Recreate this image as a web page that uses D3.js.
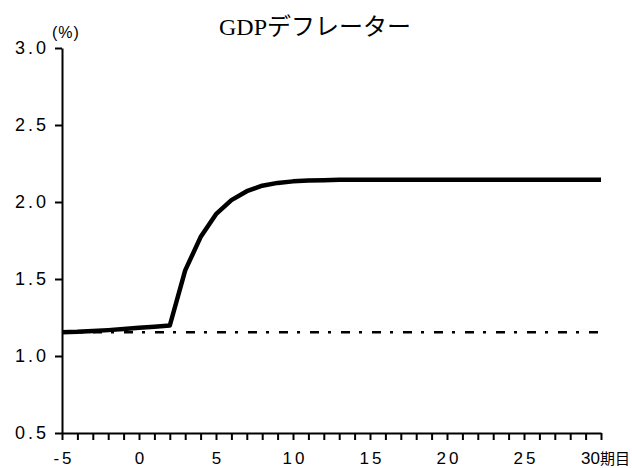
<!DOCTYPE html>
<html><head><meta charset="utf-8">
<script src="https://cdn.jsdelivr.net/npm/d3@7"></script>
<style>
body{margin:0;background:#fff;}
svg{display:block;}
</style>
</head><body>
<script>
const periods = [-5,-4,-3,-2,-1,0,1,2,3,4,5,6,7,8,9,10,11,12,13,14,15,16,17,18,19,20,21,22,23,24,25,26,27,28,29,30];
const deflator = [1.155,1.157,1.162,1.168,1.175,1.183,1.190,1.198,1.556,1.772,1.921,2.012,2.070,2.106,2.124,2.134,2.139,2.142,2.144,2.145,2.145,2.145,2.145,2.145,2.145,2.145,2.145,2.145,2.145,2.145,2.145,2.145,2.145,2.145,2.145,2.145];
const baselineValue = 1.155;
const yTicks = [0.5,1.0,1.5,2.0,2.5,3.0];
const xLabelTicks = [-5,0,5,10,15,20,25,30];
const title = "GDPデフレーター";
const unitLabel = "(%)";
const lastLabelSuffix = "期目";

const W = 632, H = 468;
const svg = d3.select("body").append("svg").attr("width", W).attr("height", H);

const x = d3.scaleLinear().domain([-5,30]).range([62,601]);
const y = d3.scaleLinear().domain([0.5,3.0]).range([433,48]);

// title
const t = svg.append("text").attr("x", 315).attr("y", 35).attr("text-anchor","middle")
  .attr("font-size", 24).attr("fill","#000");
t.append("tspan").attr("font-family","'Liberation Serif','Times New Roman',serif").text("GDP");
t.append("tspan").attr("font-family","'Noto Sans CJK JP',sans-serif").attr("font-weight",400).text(title.slice(3));

// unit
svg.append("text").attr("x", 52).attr("y", 38)
  .attr("font-family","'Liberation Sans',Arial,sans-serif").attr("font-size",16)
  .attr("letter-spacing","1px").text(unitLabel);

// y axis
const yAxis = svg.append("g").attr("transform",`translate(${x(-5)},0)`)
  .call(d3.axisLeft(y).tickValues(yTicks).tickSize(7).tickSizeOuter(0).tickFormat(d3.format(".1f")));
yAxis.select(".domain").attr("stroke","#000").attr("stroke-width",2);
yAxis.selectAll(".tick line").attr("stroke","#000").attr("stroke-width",2);
yAxis.selectAll(".tick text").attr("x",-13)
  .attr("font-family","'Liberation Sans',Arial,sans-serif").attr("font-size",18)
  .attr("letter-spacing","3px").attr("fill","#000");

// x axis
const xAxis = svg.append("g").attr("transform",`translate(0,${y(0.5)})`)
  .call(d3.axisBottom(x).tickValues(periods).tickSize(7).tickSizeOuter(0).tickFormat(""));
xAxis.select(".domain").attr("stroke","#000").attr("stroke-width",2);
xAxis.selectAll(".tick line").attr("stroke","#000").attr("stroke-width",2);

// x labels
svg.append("g").selectAll("text").data(xLabelTicks).join("text")
  .attr("x", d => d === 30 ? x(d) - 20 : x(d) + 2)
  .attr("y", 464)
  .attr("text-anchor", d => d === 30 ? "start" : "middle")
  .attr("font-family","'Liberation Sans',Arial,sans-serif").attr("font-size",17)
  .attr("fill","#000")
  .each(function(d){
    const s = d3.select(this);
    s.append("tspan").attr("letter-spacing", d === 30 ? "0px" : "3px").text(d);
    if (d === 30) s.append("tspan").attr("font-family","'Noto Sans CJK JP',sans-serif")
      .attr("font-size",15).text(lastLabelSuffix);
  });

// baseline dash-dot
svg.append("line")
  .attr("x1", x(-5)).attr("x2", x(30))
  .attr("y1", y(baselineValue)).attr("y2", y(baselineValue))
  .attr("stroke","#000").attr("stroke-width",2.5)
  .attr("stroke-dasharray","9,9,3,10");

// main line
const line = d3.line().x((d,i)=>x(periods[i])).y(d=>y(d));
svg.append("path").datum(deflator).attr("d", line)
  .attr("fill","none").attr("stroke","#000").attr("stroke-width",4.5)
  .attr("stroke-linejoin","round");
</script>
</body></html>
